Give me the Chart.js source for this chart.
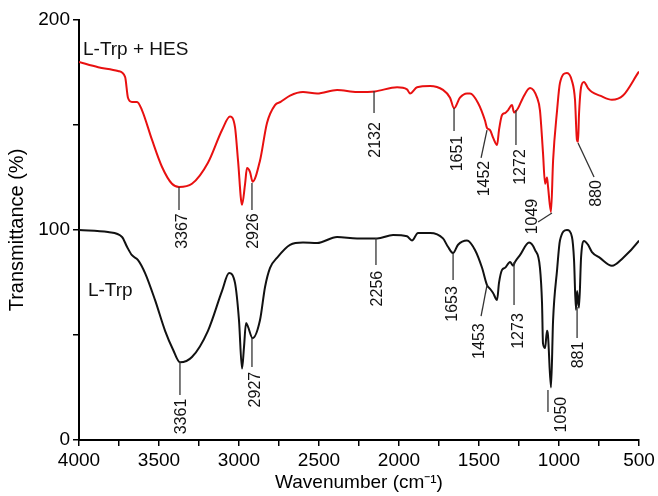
<!DOCTYPE html>
<html>
<head>
<meta charset="utf-8">
<script src="https://cdn.jsdelivr.net/npm/chart.js@4.4.1/dist/chart.umd.min.js"></script>
<style>
  html, body { margin: 0; padding: 0; background: #fff; }
  #wrap { width: 658px; height: 496px; }
</style>
</head>
<body>
<div id="wrap"><canvas id="chart" width="658" height="496"></canvas></div>
<script>
// FTIR spectra: wavenumber (cm-1) / transmittance (%)
const seriesNames = ["L-Trp + HES", "L-Trp"]

const hesWave = [4000, 3880, 3756, 3712, 3694, 3669, 3637, 3606, 3544, 3481, 3419, 3375, 3294, 3194, 3106, 3056, 3025, 3006, 2981, 2962, 2950, 2931, 2915, 2869, 2825, 2775, 2740, 2681, 2600, 2512, 2387, 2262, 2150, 2012, 1950, 1931, 1887, 1806, 1725, 1681, 1656, 1619, 1575, 1556, 1506, 1462, 1450, 1431, 1412, 1387, 1375, 1356, 1337, 1319, 1294, 1281, 1256, 1225, 1181, 1137, 1119, 1100, 1087, 1075, 1069, 1050, 1037, 1012, 994, 950, 919, 900, 888, 881, 875, 862, 844, 819, 794, 744, 669, 600, 506, 500]
const hesT = [180, 177.5, 175.7, 172.9, 163, 161, 161, 157, 143, 130, 122, 120.5, 122, 132, 147.6, 154, 149, 133, 112, 122, 129.5, 127.6, 123, 133, 151, 159.5, 161, 164, 165.7, 165, 166.7, 165.7, 166, 168, 167, 165, 168, 168.6, 166.7, 163, 158, 163, 165, 165, 160.5, 152, 148.6, 147.6, 144, 140.5, 147.6, 154.8, 155.7, 157, 159.5, 156, 158, 163, 167.6, 163, 157, 136.7, 122, 125, 121, 108.6, 133, 157, 170, 174.8, 171, 162, 143, 142, 155, 168, 170.5, 167.6, 165.7, 164, 162, 164, 174.8, 175.5]

const trpWave = [4000, 3819, 3731, 3700, 3669, 3631, 3587, 3525, 3462, 3412, 3369, 3294, 3194, 3106, 3062, 3025, 3000, 2981, 2969, 2956, 2944, 2915, 2869, 2837, 2806, 2763, 2681, 2600, 2512, 2387, 2262, 2137, 2037, 1950, 1919, 1881, 1806, 1725, 1694, 1662, 1631, 1575, 1525, 1481, 1450, 1431, 1412, 1387, 1375, 1356, 1337, 1306, 1287, 1275, 1244, 1187, 1150, 1119, 1106, 1100, 1087, 1075, 1069, 1050, 1037, 1012, 994, 950, 919, 906, 894, 887, 875, 862, 844, 819, 794, 744, 669, 600, 506, 500]
const trpT = [100, 99, 96.7, 92, 88, 85.7, 79.5, 66.7, 52, 43, 37, 39.5, 52, 71, 79.5, 74.8, 57, 34, 44, 55.7, 54, 48.5, 57, 73, 82, 86.7, 92.9, 94, 93.8, 96.7, 96, 96, 97.6, 97, 95, 98.6, 98.6, 96, 92, 89, 93, 95, 90.5, 82, 73.8, 72, 70, 66.7, 74.8, 81, 82, 84.8, 83, 84.8, 88, 94, 90.5, 82, 65, 46, 43.8, 52, 50, 25, 57, 81, 95, 100, 96.7, 85.7, 62, 71, 63, 87, 94.8, 93, 89.5, 86.7, 83, 86.7, 94.3, 95]

// peak labels
const hesPeaks = ["3367", "2926", "2132", "1651", "1452", "1272", "1049", "880"]
const trpPeaks = ["3361", "2927", "2256", "1653", "1453", "1273", "1050", "881"]

// callout geometry (data units): leader from (x0,y0) to (x1,y1), label centred at (tx,ty)
const hesCallouts = [
    [3375, 120.5, 3375, 109.5, 3359, 99.5],
    [2919, 122.4, 2919, 109.5, 2916, 99.5],
    [2156, 166.2, 2156, 155.7, 2153, 142.9],
    [1656, 158.1, 1656, 147.1, 1644, 136.4],
    [1450, 147.6, 1487, 134.3, 1475, 124.5],
    [1269, 157.1, 1269, 140.5, 1250, 130],
    [1044, 108.1, 1131, 103.8, 1175, 106.4],
    [881, 141.4, 781, 125.2, 775, 117.4],
]
const trpCallouts = [
    [3369, 37.1, 3369, 21.4, 3369, 11.2],
    [2919, 48.6, 2919, 34.8, 2903, 24],
    [2144, 96.2, 2144, 83.3, 2144, 72.1],
    [1662, 89, 1662, 76.2, 1675, 64.8],
    [1450, 73.8, 1487, 59, 1506, 47.1],
    [1281, 84.8, 1281, 64.3, 1262, 51.9],
    [1069, 23.8, 1069, 13.3, 994, 12.1],
    [887, 63.3, 887, 48.6, 884, 40.5],
]

// where the series names sit (data units, left baseline)
const namePos = [[3975, 183.3], [3944, 68.6]]

const FONT = '"Liberation Sans", Arial, Helvetica, sans-serif'

const toPoints = (xs, ys) => xs.map((v, i) => ({ x: v, y: ys[i] }))

const calloutPlugin = {
    id: 'callouts',
    afterDatasetsDraw(chart) {
        const { ctx, scales: { x, y } } = chart
        ctx.save()
        ctx.strokeStyle = '#333'
        ctx.lineWidth = 1.3
        ctx.fillStyle = '#111'
        const fs = 16
        ctx.font = fs + 'px ' + FONT
        ctx.textAlign = 'center'
        ctx.textBaseline = 'alphabetic'

        const draw = (labels, geo) => labels.forEach((txt, i) => {
            const [x0, y0, x1, y1, tx, ty] = geo[i]
            ctx.beginPath()
            ctx.moveTo(x.getPixelForValue(x0), y.getPixelForValue(y0))
            ctx.lineTo(x.getPixelForValue(x1), y.getPixelForValue(y1))
            ctx.stroke()
            ctx.save()
            ctx.translate(x.getPixelForValue(tx) + fs * 0.358, y.getPixelForValue(ty))
            ctx.rotate(-Math.PI / 2)
            ctx.fillText(txt, 0, 0)
            ctx.restore()
        })
        draw(hesPeaks, hesCallouts)
        draw(trpPeaks, trpCallouts)

        // series names
        ctx.font = '19px ' + FONT
        ctx.textAlign = 'left'
        chart.data.datasets.forEach((ds, i) => {
            ctx.fillText(ds.label, x.getPixelForValue(namePos[i][0]), y.getPixelForValue(namePos[i][1]))
        })
        ctx.restore()
    }
}

new Chart(document.getElementById('chart'), {
    type: 'line',
    data: {
        datasets: [{
            label: seriesNames[0],
            data: toPoints(hesWave, hesT),
            borderColor: 'rgb(232, 16, 16)',
            borderWidth: 2,
            pointRadius: 0,
            cubicInterpolationMode: 'monotone',
            fill: false,
        }, {
            label: seriesNames[1],
            data: toPoints(trpWave, trpT),
            borderColor: '#111',
            borderWidth: 2,
            pointRadius: 0,
            cubicInterpolationMode: 'monotone',
            fill: false,
        }]
    },
    options: {
        responsive: false,
        animation: false,
        devicePixelRatio: 1,
        layout: { padding: { left: 0, right: 19, top: 20, bottom: 0 } },
        plugins: {
            legend: { display: false },
            tooltip: { enabled: false },
        },
        scales: {
            x: {
                type: 'linear',
                reverse: true,
                min: 500,
                max: 4000,
                afterFit: (s) => { s.height = 56 },
                border: { display: true, color: '#000', width: 2 },
                grid: { drawOnChartArea: false, drawTicks: true, tickLength: 6, color: '#000', lineWidth: 1.5 },
                ticks: {
                    stepSize: 250,
                    autoSkip: false,
                    maxRotation: 0,
                    padding: 3,
                    color: '#000',
                    font: { family: FONT, size: 19 },
                    callback: (v) => v % 500 === 0 ? String(v) : '',
                },
                title: {
                    display: true,
                    text: 'Wavenumber (cm\u207B\u00B9)',
                    color: '#000',
                    font: { family: FONT, size: 19 },
                    padding: { top: 0, bottom: 2 },
                },
            },
            y: {
                min: 0,
                max: 200,
                afterFit: (s) => { s.width = 79 },
                border: { display: true, color: '#000', width: 2 },
                grid: { drawOnChartArea: false, drawTicks: true, tickLength: 6, color: '#000', lineWidth: 1.5 },
                ticks: {
                    stepSize: 50,
                    padding: 3,
                    color: '#000',
                    font: { family: FONT, size: 19 },
                    callback: (v) => v % 100 === 0 ? String(v) : '',
                },
                title: {
                    display: true,
                    text: 'Transmittance (%)',
                    color: '#000',
                    font: { family: FONT, size: 20 },
                    padding: { top: 5, bottom: 0 },
                },
            },
        },
    },
    plugins: [calloutPlugin],
})
</script>
</body>
</html>
